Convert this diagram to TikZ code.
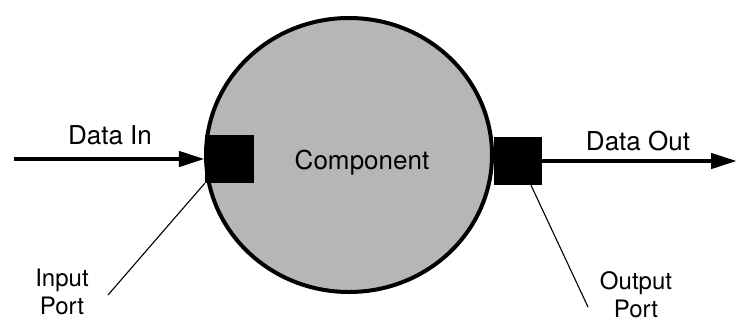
\documentclass[tikz,border=0pt]{standalone}
\usepackage{fontspec}
\setmainfont{TeX Gyre Heros}
\usetikzlibrary{arrows.meta,shapes.geometric,calc}
\definecolor{compgray}{RGB}{182,182,182}
\begin{document}
\begin{tikzpicture}[x=1pt,y=-1pt,
  lbl/.style={font=\fontsize{26}{28}\selectfont, inner sep=0pt, align=center},
  portlbl/.style={font=\fontsize{24}{28}\selectfont, inner sep=0pt, align=center},
  portbox/.style={fill=black, draw=none, inner sep=0pt},
  flow/.style={line width=4.5pt, -{Triangle[length=26pt,width=15pt]}},
  leader/.style={line width=1.1pt}]
\useasboundingbox (0,0) rectangle (738,322);
\node[ellipse, draw=black, line width=4pt, fill=compgray, minimum width=286pt, minimum height=274pt, inner sep=0pt] (comp) at (349,155) {};
\node[lbl] (complbl) at (362,163) {Component};
\node[portbox, minimum width=49pt, minimum height=48pt] (inport) at (229.5,159) {};
\node[portbox, minimum width=48pt, minimum height=48pt] (outport) at (518,161) {};
\coordinate (instart) at (14,159);
\coordinate (outend) at (737,161);
\draw[flow] (instart) -- (inport.west);
\draw[flow] (outport.east) -- (outend);
\node[lbl] (datain) at (110,135) {Data In};
\node[lbl] (dataout) at (638,141) {Data Out};
\node[portlbl] (inlabel) at (62,292) {Input\\Port};
\node[portlbl] (outlabel) at (636,295) {Output\\Port};
\coordinate (inleadend) at (108,295);
\coordinate (outleadend) at (588,307);
\draw[leader] (inleadend) -- (inport.south west);
\draw[leader] (outleadend) -- ([xshift=13pt]outport.south);
\end{tikzpicture}
\end{document}
